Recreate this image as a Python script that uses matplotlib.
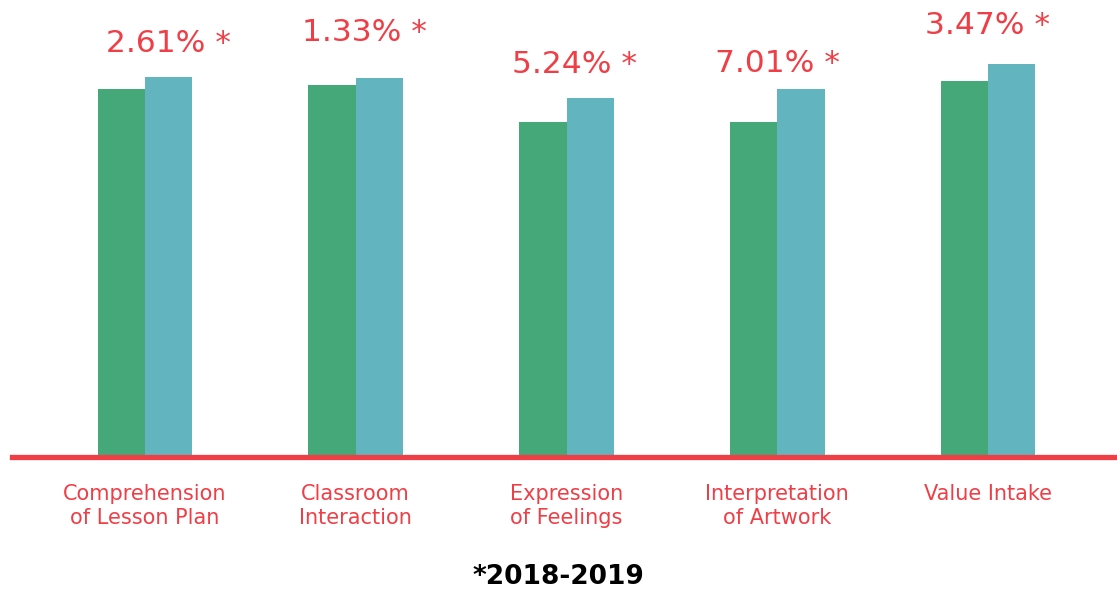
import numpy as np
import matplotlib.pyplot as plt

plt.rcParams['font.family'] = ['DejaVu Sans']

categories = ['Comprehension\nof Lesson Plan', 'Classroom\nInteraction',
              'Expression\nof Feelings', 'Interpretation\nof Artwork', 'Value Intake']
before = [3.66, 3.70, 3.33, 3.33, 3.74]
after = [3.78, 3.77, 3.57, 3.66, 3.91]
growth = ['2.61% *', '1.33% *', '5.24% *', '7.01% *', '3.47% *']
label_dx = [17, 6, 6, 0, 0]     # points
label_gap = [14, 22, 14, 8, 17]  # points above the taller bar

green = '#45a878'
teal = '#62b4bf'
red = '#ef3e46'

fig = plt.figure(figsize=(11.17, 5.89), dpi=100)
ax = fig.add_axes([12/1117, (589-455)/589, 1105/1117, 455/589])

x = np.arange(len(categories))
w = 0.225
ax.bar(x - w/2, before, w, color=green, zorder=2)
ax.bar(x + w/2, after, w, color=teal, zorder=2)
ax.axhline(-0.02, color=red, lw=3.8, zorder=3, clip_on=False)

for i, g in enumerate(growth):
    ax.annotate(g, (x[i], after[i]), xytext=(label_dx[i], label_gap[i]),
                textcoords='offset points', ha='center', va='bottom',
                color=red, fontsize=22.5)

ax.set_xlim(-0.631, 4.612)
ax.set_ylim(0, 4.55)
ax.set_xticks(x)
ax.set_xticklabels(categories, color=red, fontsize=15, linespacing=1.25)
ax.tick_params(axis='x', length=0, pad=21)
ax.set_yticks([])
for s in ax.spines.values():
    s.set_visible(False)

fig.text(0.5, 1 - 577/589, '*2018-2019', ha='center', va='center',
         fontsize=19, fontweight='bold', color='black')

fig.savefig('out.png', dpi=100)
